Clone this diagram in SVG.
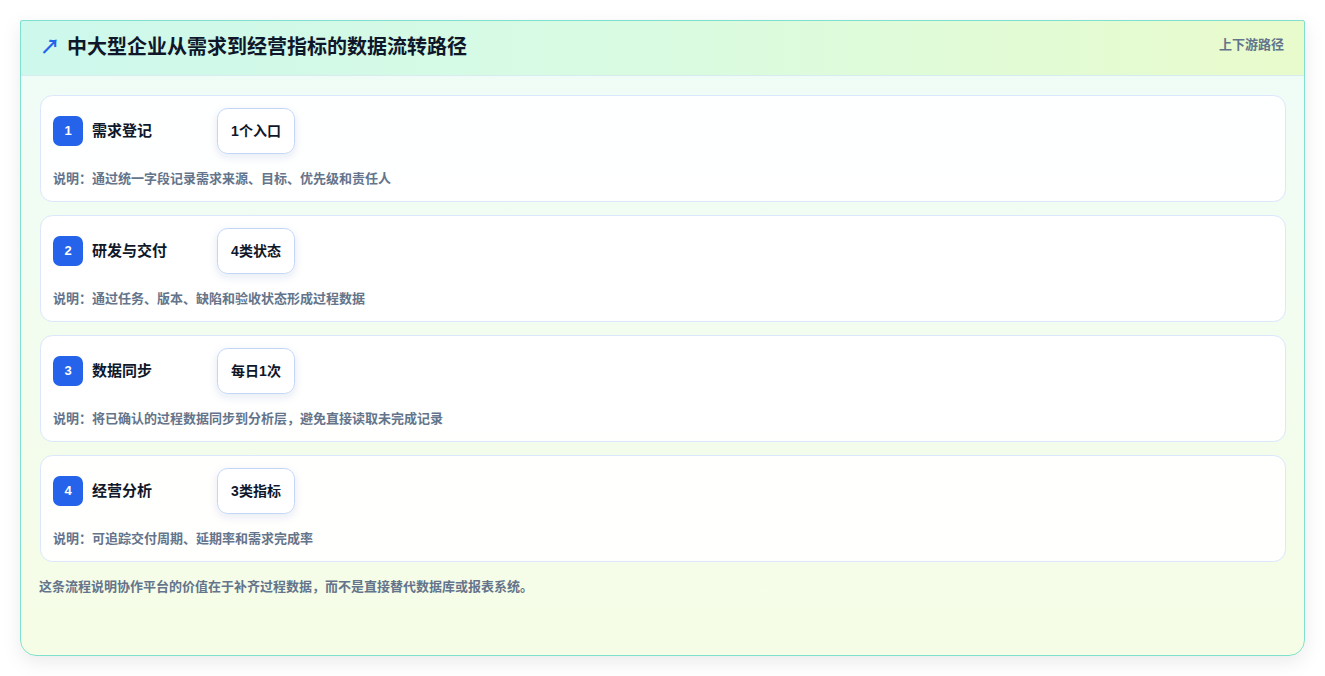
<svg xmlns="http://www.w3.org/2000/svg" width="1325" height="676" viewBox="0 0 1325 676">
<defs>
<linearGradient id="hdr" x1="0" y1="0" x2="1" y2="0">
<stop offset="0" stop-color="#cdf8ec"/>
<stop offset="0.45" stop-color="#d8fbe3"/>
<stop offset="1" stop-color="#e9fbcc"/>
</linearGradient>
<linearGradient id="body" x1="0" y1="0" x2="0" y2="1">
<stop offset="0" stop-color="#effcf8"/>
<stop offset="1" stop-color="#f6fde6"/>
</linearGradient>
<filter id="sh" x="-5%" y="-5%" width="110%" height="115%">
<feDropShadow dx="0" dy="6" stdDeviation="9" flood-color="#0f172a" flood-opacity="0.08"/>
</filter>
<filter id="psh" x="-30%" y="-30%" width="160%" height="180%">
<feDropShadow dx="0" dy="3" stdDeviation="4" flood-color="#1e3a8a" flood-opacity="0.10"/>
</filter>
<clipPath id="outer"><path d="M22,20 H1303 A2,2 0 0 1 1305,22 V640 A16,16 0 0 1 1289,656 H36 A16,16 0 0 1 20,640 V22 A2,2 0 0 1 22,20 Z"/></clipPath>
</defs>
<style>
text{font-family:"Liberation Sans","Noto Sans CJK SC",sans-serif;}
.card{fill:#ffffff;fill-opacity:0.92;stroke:#dbe7fb;stroke-width:1;}
.badge{fill:#2563eb;}
.bnum{fill:#ffffff;font-size:13px;font-weight:700;text-anchor:middle;}
.ttl{fill:#0f172a;font-size:15px;font-weight:700;}
.pill{fill:#ffffff;stroke:#c3d6f7;stroke-width:1;}
.ptxt{fill:#0f172a;font-size:14px;font-weight:700;text-anchor:middle;}
.desc{fill:#64748b;font-size:13px;font-weight:700;}
</style>
<rect width="1325" height="676" fill="#ffffff"/>
<g id="frame">
<path d="M22,20 H1303 A2,2 0 0 1 1305,22 V640 A16,16 0 0 1 1289,656 H36 A16,16 0 0 1 20,640 V22 A2,2 0 0 1 22,20 Z" fill="url(#body)" filter="url(#sh)"/>
<g clip-path="url(#outer)">
<rect x="20" y="20" width="1285" height="55" fill="url(#hdr)"/>
<line x1="20" y1="75.5" x2="1305" y2="75.5" stroke="#d6ecef" stroke-width="1"/>
</g>
<path d="M22,20.5 H1303 A2,2 0 0 1 1304.5,22 V640 A15.5,15.5 0 0 1 1289,655.5 H36 A15.5,15.5 0 0 1 20.5,640 V22 A2,2 0 0 1 22,20.5 Z" fill="none" stroke="#7fe0cf" stroke-width="1"/>
</g>
<g id="header">
<text x="40" y="54" fill="#2563eb" font-size="20" font-weight="700">↗</text>
<text x="67" y="54" fill="#0f172a" font-size="20" font-weight="700">中大型企业从需求到经营指标的数据流转路径</text>
<text x="1284" y="49" fill="#64748b" font-size="13" font-weight="700" text-anchor="end">上下游路径</text>
</g>
<g id="step1">
<rect class="card" x="40.5" y="95.5" width="1245" height="106" rx="12"/>
<rect class="badge" x="53" y="116" width="30" height="30" rx="7"/>
<text class="bnum" x="68" y="135">1</text>
<text class="ttl" x="92" y="136">需求登记</text>
<rect class="pill" x="217.5" y="108.5" width="77" height="45" rx="10" filter="url(#psh)"/>
<text class="ptxt" x="256" y="136">1个入口</text>
<text class="desc" x="53" y="183">说明：通过统一字段记录需求来源、目标、优先级和责任人</text>
</g>
<g id="step2">
<rect class="card" x="40.5" y="215.5" width="1245" height="106" rx="12"/>
<rect class="badge" x="53" y="236" width="30" height="30" rx="7"/>
<text class="bnum" x="68" y="255">2</text>
<text class="ttl" x="92" y="256">研发与交付</text>
<rect class="pill" x="217.5" y="228.5" width="77" height="45" rx="10" filter="url(#psh)"/>
<text class="ptxt" x="256" y="256">4类状态</text>
<text class="desc" x="53" y="303">说明：通过任务、版本、缺陷和验收状态形成过程数据</text>
</g>
<g id="step3">
<rect class="card" x="40.5" y="335.5" width="1245" height="106" rx="12"/>
<rect class="badge" x="53" y="356" width="30" height="30" rx="7"/>
<text class="bnum" x="68" y="375">3</text>
<text class="ttl" x="92" y="376">数据同步</text>
<rect class="pill" x="217.5" y="348.5" width="77" height="45" rx="10" filter="url(#psh)"/>
<text class="ptxt" x="256" y="376">每日1次</text>
<text class="desc" x="53" y="423">说明：将已确认的过程数据同步到分析层，避免直接读取未完成记录</text>
</g>
<g id="step4">
<rect class="card" x="40.5" y="455.5" width="1245" height="106" rx="12"/>
<rect class="badge" x="53" y="476" width="30" height="30" rx="7"/>
<text class="bnum" x="68" y="495">4</text>
<text class="ttl" x="92" y="496">经营分析</text>
<rect class="pill" x="217.5" y="468.5" width="77" height="45" rx="10" filter="url(#psh)"/>
<text class="ptxt" x="256" y="496">3类指标</text>
<text class="desc" x="53" y="543">说明：可追踪交付周期、延期率和需求完成率</text>
</g>
<g id="connectors"></g>
<g id="footer">
<text class="desc" x="39" y="591">这条流程说明协作平台的价值在于补齐过程数据，而不是直接替代数据库或报表系统。</text>
</g>
</svg>
